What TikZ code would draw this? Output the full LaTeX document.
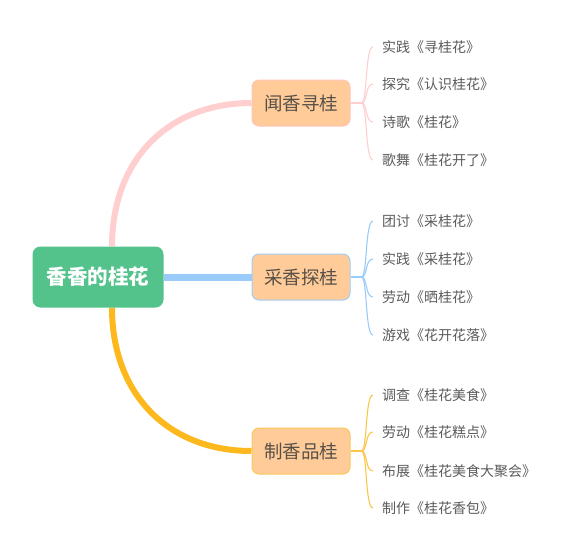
\documentclass[tikz,border=0pt]{standalone}
\usepackage{fontspec}
\newfontfamily\cjk{Noto Sans CJK SC}
\usetikzlibrary{backgrounds}
\definecolor{rootgreen}{RGB}{83,194,139}
\definecolor{peach}{RGB}{255,204,153}
\definecolor{boxtext}{RGB}{88,80,72}
\definecolor{leaftext}{RGB}{90,90,90}
\definecolor{pinkline}{RGB}{255,206,206}
\definecolor{blueline}{RGB}{153,204,250}
\definecolor{goldline}{RGB}{252,184,28}
\definecolor{pinkedge}{RGB}{255,196,186}
\definecolor{blueedge}{RGB}{160,205,245}
\definecolor{goldedge}{RGB}{252,200,90}
\tikzset{
  root/.style={fill=rootgreen, text=white, rounded corners=8pt, minimum width=131pt,
    minimum height=61pt, font=\cjk\bfseries\fontsize{20.5}{22}\selectfont},
  topic/.style={draw, line width=1pt, fill=peach, text=boxtext, rounded corners=7pt,
    minimum width=98pt, minimum height=46pt, font=\cjk\fontsize{18.5}{20}\selectfont},
  leaf/.style={anchor=west, text=leaftext, inner xsep=9pt, font=\cjk\fontsize{14}{16}\selectfont}
}

\begin{document}
\begin{tikzpicture}[x=1pt,y=-1pt]
\useasboundingbox (0,0) rectangle (584,555);
\node[root] (root) at (98,277) {香香的桂花};
\node[topic, draw=pinkedge] (smell) at (301,103) {闻香寻桂};
\node[topic, draw=blueedge] (pick) at (301,277) {采香探桂};
\node[topic, draw=goldedge] (make) at (301,451) {制香品桂};
\coordinate (smellj) at ([xshift=11pt]smell.east);
\coordinate (pickj) at ([xshift=11pt]pick.east);
\coordinate (makej) at ([xshift=11pt]make.east);

% first branch
\foreach \n/\y/\t in {1/47/实践《寻桂花》, 2/84/探究《认识桂花》, 3/122/诗歌《桂花》, 4/160/歌舞《桂花开了》}
  \node[leaf] (s\n) at (373,\y) {\t};
% second branch
\foreach \n/\y/\t in {1/221/团讨《采桂花》, 2/259/实践《采桂花》, 3/297/劳动《晒桂花》, 4/335/游戏《花开花落》}
  \node[leaf] (p\n) at (373,\y) {\t};
% third branch
\foreach \n/\y/\t in {1/395/调查《桂花美食》, 2/432/劳动《桂花糕点》, 3/471/布展《桂花美食大聚会》, 4/508/制作《桂花香包》}
  \node[leaf] (m\n) at (373,\y) {\t};

\begin{scope}[on background layer]
\draw[pinkline, line width=6pt] ([xshift=14pt]root.north) .. controls (112,160) and (168,103) .. (smell.west);
\draw[blueline, line width=7pt] (root.east) -- (pick.west);
\draw[goldline, line width=6pt] ([xshift=14pt]root.south) .. controls (112,394) and (168,451) .. (make.west);

\draw[pinkline, line width=1.5pt] (smell.east) -- (smellj);
\draw[blueline, line width=1.5pt] (pick.east) -- (pickj);
\draw[goldline!80, line width=1.5pt] (make.east) -- (makej);
\foreach \n in {1,...,4} {
  \draw[pinkline, line width=1.1pt] (smellj) .. controls ([xshift=6pt]smellj) and ([xshift=-8pt]s\n.west) .. (s\n.west);
  \draw[blueline, line width=1.1pt] (pickj) .. controls ([xshift=6pt]pickj) and ([xshift=-8pt]p\n.west) .. (p\n.west);
  \draw[goldline!80, line width=1.1pt] (makej) .. controls ([xshift=6pt]makej) and ([xshift=-8pt]m\n.west) .. (m\n.west);
}
\end{scope}
\end{tikzpicture}
\end{document}
